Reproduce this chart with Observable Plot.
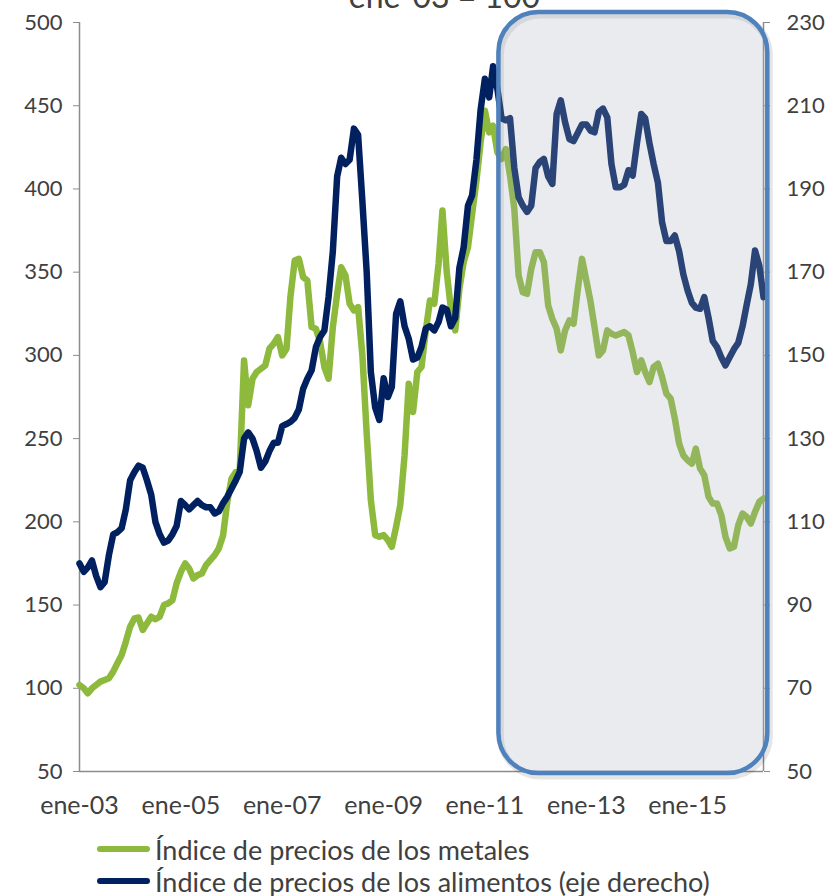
<!DOCTYPE html>
<html><head><meta charset="utf-8">
<script src="https://cdn.jsdelivr.net/npm/d3@7"></script>
<script src="https://cdn.jsdelivr.net/npm/@observablehq/plot@0.6"></script>
<style>
body{margin:0;background:#fff;font-family:Lato, "Open Sans", sans-serif;}
#wrap{position:relative;width:830px;}
.legend{padding-top:3px;color:#404040;font-size:27px;}
.item{height:32px;display:flex;align-items:center;white-space:nowrap;}
.sw{display:inline-block;width:53px;height:6px;border-radius:3px;margin-left:97px;margin-right:5px;flex:none;}
</style></head><body>
<div id="wrap"><div id="chart"></div>
<div class="legend">
  <div class="item"><span class="sw" style="background:#8DB93C"></span><span>Índice de precios de los metales</span></div>
  <div class="item"><span class="sw" style="background:#002060"></span><span>Índice de precios de los alimentos (eje derecho)</span></div>
</div></div>
<script>
// Monthly data, ene-2003 .. jul-2016 (ene-03 = 100)
const startYear = 2003;
const metales = [
  102, 100, 97, 100, 102, 104, 105, 106, 110, 115, 120, 128,
  137, 142, 142.5, 135, 139, 143, 141.5, 143, 150, 151, 153, 163,
  170, 175, 172, 166, 168, 169, 174, 177, 180, 184, 192, 212,
  226, 230, 231, 297, 270, 286, 290, 292, 294, 304, 307, 311,
  300, 304, 335, 357, 358, 347, 345, 317, 316, 308, 293, 286,
  317, 337, 353, 348, 331, 327, 329, 300, 253, 213, 192, 191,
  192, 189, 185, 197, 210, 240, 283, 266, 290, 293, 315, 333,
  331, 355, 387, 350, 328, 315, 340, 356, 365, 385, 405, 428,
  447, 434, 438, 422, 418, 424, 408, 388, 348, 338, 337, 352,
  362, 362, 356, 330, 322, 316, 303, 315, 321, 319, 340, 358,
  345, 332, 317, 300, 303, 315, 313, 312, 313, 314, 312, 302,
  290, 297, 290, 284, 293, 295, 287, 277, 274, 262, 247, 240,
  237, 235, 244, 232, 228, 215, 211, 211, 204, 191, 184, 185,
  198, 205, 203, 199, 206, 212, 214
];
const alimentos = [
  100, 98, 99, 100.7, 97, 94.3, 95.5, 102, 107, 107.5, 108.5, 113,
  120, 122, 123.5, 123, 120, 116.5, 110, 107, 105, 105.5, 107, 109,
  115, 114, 113, 114, 115, 114, 113.5, 113.5, 112, 112.5, 114.5, 116,
  118, 120, 122, 130, 131.5, 130, 127, 123, 124.5, 127, 129, 129,
  133, 133.5, 134, 135, 137, 142, 144.4, 146.4, 152, 154.4, 156, 164,
  175, 193, 197.5, 196, 197, 204.5, 203, 187, 170, 146, 137.5, 134.5,
  144.5, 140, 142.4, 160, 163, 157, 154, 149, 149.5, 152, 156.5, 157,
  156, 158, 161.5, 161, 157, 159, 171, 176, 186, 188.5, 197, 209,
  216.5, 212, 219.5, 214, 207, 206.5, 207, 195, 188, 186, 184.5, 186,
  195, 196.5, 197.2, 193, 191.2, 208, 211.3, 206, 202, 201.5, 203.5, 205.5,
  205.5, 204, 203.6, 208.5, 209.3, 207.2, 196, 190.4, 190.4, 191, 194.5, 193.2,
  201, 208, 207, 201, 196, 191.5, 182, 177.5, 177.5, 178.8, 175, 169.5,
  165.6, 162.6, 161.5, 161.2, 164, 159, 153.5, 152, 149.5, 147.6, 149.6, 151.5,
  153, 157, 162, 167.2, 175.2, 171.5, 164
];
const leftTicks = [50, 100, 150, 200, 250, 300, 350, 400, 450, 500];
const rightTicks = [50, 70, 90, 110, 130, 150, 170, 190, 210, 230];
const xTickYears = [2003, 2005, 2007, 2009, 2011, 2013, 2015];
const titulo = "ene-03 = 100";
const destacadoDesde = [2011, 3, 12];  // inicio del recuadro
const destacadoHasta = [2016, 7, 1];   // fin del recuadro

// right axis (50..230) mapped onto left axis (50..500)
const toLeft = v => 50 + (v - 50) * 450 / 180;
const fromLeft = v => Math.round(50 + (v - 50) * 180 / 450);

const fecha = i => new Date(Date.UTC(startYear, i, 1));
const dataM = metales.map((v, i) => ({date: fecha(i), v}));
const dataA = alimentos.map((v, i) => ({date: fecha(i), v: toLeft(v)}));
const xTicks = xTickYears.map(y => new Date(Date.UTC(y, 0, 1)));
const x0 = dataM[0].date, x1 = dataM[dataM.length - 1].date;
const box = [{a: new Date(Date.UTC(...destacadoDesde)), b: new Date(Date.UTC(...destacadoHasta))}];

const chart = Plot.plot({
  width: 830, height: 830,
  marginLeft: 79, marginRight: 67, marginTop: 22, marginBottom: 59,
  style: {fontFamily: "Lato, 'Open Sans', sans-serif", background: "white", color: "#404040"},
  x: {type: "utc", domain: [x0, x1]},
  y: {domain: [50, 500]},
  marks: [
    Plot.ruleX([x0], {stroke: "#8c8c8c", strokeWidth: 1.5}),
    Plot.ruleX([x1], {stroke: "#8c8c8c", strokeWidth: 1.5}),
    Plot.ruleY([50], {stroke: "#8c8c8c", strokeWidth: 1.5}),
    Plot.axisY(leftTicks, {anchor: "left", tickSize: 6, tickPadding: 11, stroke: "#8c8c8c", fill: "#404040", fontSize: 22, label: null}),
    Plot.axisY(rightTicks.map(toLeft), {anchor: "right", tickSize: 6, tickPadding: 17, tickFormat: d => String(fromLeft(d)), stroke: "#8c8c8c", fill: "#404040", fontSize: 22, label: null}),
    Plot.axisX(xTicks, {tickSize: 0, tickPadding: 25, tickFormat: d => "ene-" + String(d.getUTCFullYear()).slice(2), fontSize: 25, fill: "#404040", label: null}),
    Plot.line(dataM, {x: "date", y: "v", stroke: "#8DB93C", strokeWidth: 6.5}),
    Plot.line(dataA, {x: "date", y: "v", stroke: "#002060", strokeWidth: 6.5}),
    Plot.rect(box, {x1: "a", x2: "b", insetTop: -10, insetBottom: -2, rx: 40, dx: 2, dy: 3, fill: "none", stroke: "#000", strokeOpacity: 0.1, strokeWidth: 7}),
    Plot.rect(box, {x1: "a", x2: "b", insetTop: -10, insetBottom: -2, rx: 40, fill: "#a7afbb", fillOpacity: 0.25, stroke: "#4F81BD", strokeWidth: 4.5}),
    Plot.text([titulo], {frameAnchor: "top", lineAnchor: "bottom", dy: -15, dx: 23, fontSize: 32, fill: "#404040"})
  ]
});
document.getElementById("chart").append(chart);
</script>
</body></html>
